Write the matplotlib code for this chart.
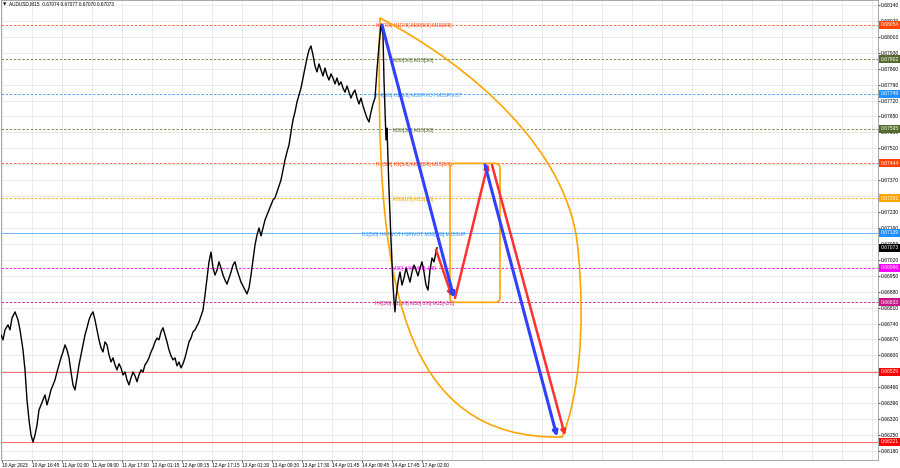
import matplotlib
matplotlib.use('Agg')
import matplotlib.pyplot as plt
from matplotlib.path import Path
from matplotlib.patches import PathPatch, FancyBboxPatch
import matplotlib.transforms as mtransforms

plt.rcParams['font.family'] = ['Liberation Sans', 'DejaVu Sans']

# ---------------- data ----------------
bar_pos = [1, 3, 5, 8, 10, 12, 15, 18, 20, 23, 25, 27, 29, 31, 33, 35, 37, 39, 41, 43,
           45, 47, 49, 51, 53, 55, 57, 59, 61, 63, 65, 67, 69, 71, 73, 75, 77, 79, 81, 83,
           85, 87, 89, 91, 93, 95, 97, 99, 101, 103, 105, 107, 109, 111, 113, 115, 117, 119, 121, 123,
           125, 127, 129, 131, 133, 135, 137, 139, 141, 143, 145, 147, 149, 151, 153, 155, 157, 159, 161, 163,
           165, 167, 169, 171, 173, 175, 177, 179, 181, 183, 185, 187, 189, 191, 193, 195, 197, 199, 201, 203,
           205, 207, 209, 211, 213, 215, 217, 219, 221, 223, 225, 227, 229, 231, 233, 235, 237, 239, 241, 243,
           245, 247, 249, 251, 253, 255, 257, 259, 261, 263, 265, 267, 269, 271, 273, 275, 277, 279, 281, 283,
           285, 287, 289, 291, 293, 295, 297, 299, 301, 303, 305, 307, 309, 311, 313, 315, 317, 319, 321, 323,
           325, 327, 329, 331, 333, 335, 337, 339, 341, 343, 345, 347, 349, 351, 353, 355, 357, 359, 361, 363,
           365, 367, 369, 371, 373, 375, 377, 379, 381, 383, 384, 385, 386, 387, 388, 389, 390, 391, 392, 393,
           394, 395, 396, 398, 400, 402, 404, 406, 408, 410, 412, 414, 416, 418, 420, 422, 424, 426, 428, 430,
           432, 434, 436, 437]
close = [0.66690, 0.66668, 0.66712, 0.66734, 0.66712, 0.66764, 0.66791, 0.66756, 0.66712, 0.66624,
         0.66536, 0.66404, 0.66316, 0.66250, 0.66219, 0.66250, 0.66294, 0.66360, 0.66382, 0.66404,
         0.66426, 0.66382, 0.66413, 0.66448, 0.66470, 0.66492, 0.66527, 0.66558, 0.66589, 0.66615,
         0.66646, 0.66624, 0.66589, 0.66527, 0.66470, 0.66448, 0.66501, 0.66558, 0.66602, 0.66646,
         0.66690, 0.66721, 0.66756, 0.66778, 0.66791, 0.66756, 0.66712, 0.66668, 0.66633, 0.66615,
         0.66659, 0.66646, 0.66602, 0.66571, 0.66589, 0.66558, 0.66536, 0.66563, 0.66545, 0.66514,
         0.66527, 0.66492, 0.66470, 0.66501, 0.66527, 0.66510, 0.66484, 0.66514, 0.66536, 0.66527,
         0.66558, 0.66571, 0.66589, 0.66615, 0.66633, 0.66659, 0.66676, 0.66668, 0.66703, 0.66721,
         0.66690, 0.66659, 0.66624, 0.66598, 0.66580, 0.66589, 0.66554, 0.66571, 0.66545, 0.66563,
         0.66589, 0.66624, 0.66659, 0.66676, 0.66703, 0.66712, 0.66729, 0.66747, 0.66773, 0.66799,
         0.66865, 0.66940, 0.67011, 0.67054, 0.66984, 0.66953, 0.66975, 0.67011, 0.66984, 0.66953,
         0.66931, 0.66913, 0.66940, 0.66966, 0.66997, 0.67011, 0.66975, 0.66949, 0.66922, 0.66905,
         0.66887, 0.66870, 0.66896, 0.66953, 0.67019, 0.67085, 0.67129, 0.67160, 0.67125, 0.67160,
         0.67195, 0.67217, 0.67239, 0.67261, 0.67283, 0.67292, 0.67318, 0.67345, 0.67371, 0.67415,
         0.67459, 0.67494, 0.67525, 0.67582, 0.67635, 0.67670, 0.67714, 0.67744, 0.67775, 0.67819,
         0.67863, 0.67907, 0.67942, 0.67960, 0.67920, 0.67872, 0.67846, 0.67881, 0.67854, 0.67828,
         0.67863, 0.67832, 0.67810, 0.67837, 0.67819, 0.67793, 0.67819, 0.67788, 0.67802, 0.67775,
         0.67757, 0.67784, 0.67757, 0.67731, 0.67753, 0.67766, 0.67731, 0.67705, 0.67731, 0.67696,
         0.67670, 0.67643, 0.67626, 0.67670, 0.67705, 0.67731, 0.67854, 0.67964, 0.68052, 0.68008,
         0.67810, 0.67679, 0.67547, 0.67599, 0.67459, 0.67327, 0.67217, 0.67107, 0.67011, 0.66909,
         0.66843, 0.66791, 0.66852, 0.66922, 0.66966, 0.66909, 0.66940, 0.66984, 0.66953, 0.66922,
         0.66966, 0.66997, 0.66975, 0.66949, 0.66984, 0.67011, 0.66966, 0.66909, 0.66887, 0.66975,
         0.67028, 0.67011, 0.67054, 0.67073]

time_labels = ['10 Apr 2023', '10 Apr 16:45', '11 Apr 01:00', '11 Apr 09:00', '11 Apr 17:00',
               '12 Apr 01:15', '12 Apr 09:15', '12 Apr 17:15', '13 Apr 01:30', '13 Apr 09:30',
               '13 Apr 17:30', '14 Apr 01:45', '14 Apr 09:45', '14 Apr 17:45', '17 Apr 02:00']
time_label_pos = [2, 32, 62, 92, 122, 152, 182, 212, 242, 272, 302, 332, 362, 392, 422]
future_grid_pos = [452, 482, 512, 542, 572, 602, 632, 662, 692, 722, 752, 782, 812, 842, 872]

price_ticks = [0.66180, 0.66250, 0.66320, 0.66390, 0.66460, 0.66530, 0.66600, 0.66670, 0.66740,
               0.66810, 0.66880, 0.66950, 0.67020, 0.67090, 0.67160, 0.67230, 0.67300, 0.67370,
               0.67440, 0.67510, 0.67580, 0.67650, 0.67720, 0.67790, 0.67860, 0.67930, 0.68000,
               0.68070, 0.68140]

level_prices = [0.68054, 0.67902, 0.67749, 0.67595, 0.67444, 0.67291, 0.67139, 0.66986, 0.66833,
                0.66529, 0.66221]
level_colors = ['#FF5A28', '#6B7B35', '#3C9BFF', '#6B7B35', '#FF5A28', '#FFA500', '#6CB8FF',
                '#FF00FF', '#C71585', '#FF6A6A', '#FF6A6A']
level_text_colors = ['#FF4500', '#556B2F', '#1E90FF', '#556B2F', '#FF4500', '#FFA500', '#1E90FF',
                     '#FF00FF', '#C71585', '#FF0000', '#FF0000']
level_dashed = [True, True, True, True, True, True, False, True, True, False, False]
level_labels = ['H4[7/8] H1[7/8] M30[8/8] M15[8/8]', 'M30[5/8] M15[5/8]',
                'H4[6/8] H1[6/8] M30PIVOT M15PIVOT', 'M30[3/8] M15[3/8]',
                'H4[5/8] H1[5/8] M30[2/8] M15[2/8]', 'M30[1/8] M15[1/8]',
                'D1[5/8] H4PIVOT H1PIVOT M30[0/8] M15SUP', 'M30[-1/8] M15[-1/8]',
                'H4[3/8] H1[3/8] M30[-2/8] M15[-2/8]', '', '']
level_label_x = [376, 393, 376, 393, 376, 393, 362, 392, 375, 0, 0]

current_price = 0.67073
ohlc_title = 'AUDUSD,M15  0.67074 0.67077 0.67070 0.67073'

# ellipse (two cubic Bezier branches), (bar, price)
ell_left = [(380, 0.68083), (374, 0.66931), (400, 0.66228), (562, 0.66241)]
ell_right = [(380, 0.68083), (470, 0.67876), (570, 0.67503), (578, 0.67063),
             (586, 0.66712), (578, 0.66404), (562, 0.66241)]
# rectangle: bar range and price range
rect_bars = (450, 500)
rect_prices = (0.66833, 0.67444)
# arrows: (x0, p0, x1, p1)
blue_arrows = [(382, 0.68052, 454, 0.66852), (485, 0.67437, 557, 0.66243)]
red_arrows = [(436, 0.67064, 452, 0.66858), (455, 0.66852, 488, 0.67443),
              (492, 0.67437, 565, 0.66248)]

# ---------------- figure ----------------
W, H = 900, 468
fig = plt.figure(figsize=(W / 100, H / 100), dpi=100)
ax = fig.add_axes([1 / W, 8 / H, 877 / W, 460 / H])
ax.set_xlim(1, 878)
ax.set_ylim(0.66140, 0.68162)
ax.set_facecolor('white')

# grid
for gx in time_label_pos + future_grid_pos:
    ax.axvline(gx, color='#E6E6E6', lw=0.6, zorder=0)
for py in price_ticks:
    ax.axhline(py, color='#E6E6E6', lw=0.6, zorder=0)

# level lines and labels
for p, c, tc, d, lab, lx in zip(level_prices, level_colors, level_text_colors,
                                level_dashed, level_labels, level_label_x):
    if d:
        ax.axhline(p, color=c, lw=0.6, dashes=(3, 2), zorder=1)
    else:
        ax.axhline(p, color=c, lw=0.7, zorder=1)
    if lab:
        ax.text(lx, p - 0.00006, lab, color=tc, fontsize=3.6, va='center', ha='left', zorder=2)

# ellipse
verts = ell_left + ell_right[::-1][1:]
codes = [Path.MOVETO, Path.CURVE4, Path.CURVE4, Path.CURVE4,
         Path.CURVE4, Path.CURVE4, Path.CURVE4, Path.CURVE4, Path.CURVE4, Path.CURVE4]
ax.add_patch(PathPatch(Path(verts, codes), fill=False, ec='#FFA500', lw=1.2, zorder=3))

# rectangle
k = 0.00004395
ax.add_patch(FancyBboxPatch((rect_bars[0], rect_prices[0]), rect_bars[1] - rect_bars[0],
                            rect_prices[1] - rect_prices[0],
                            boxstyle='round,pad=0,rounding_size=5', mutation_aspect=k,
                            fill=False, ec='#FFA500', lw=1.2, zorder=3))

# price
ax.plot(bar_pos, close, color='black', lw=1.0, zorder=4)

# arrows
for x0, p0, x1, p1 in red_arrows:
    ax.annotate('', xy=(x1, p1), xytext=(x0, p0),
                arrowprops=dict(arrowstyle='-|>', color='#FF3030', lw=1.8,
                                mutation_scale=7, shrinkA=0, shrinkB=0), zorder=5)
for x0, p0, x1, p1 in blue_arrows:
    ax.annotate('', xy=(x1, p1), xytext=(x0, p0),
                arrowprops=dict(arrowstyle='-|>', color='#3040FF', lw=2.2,
                                mutation_scale=7, shrinkA=0, shrinkB=0), zorder=5)

# axes styling
for s in ax.spines.values():
    s.set_color('#9A9A9A')
    s.set_linewidth(0.6)
ax.yaxis.tick_right()
ax.set_yticks(price_ticks)
ax.set_yticklabels(['%.5f' % v for v in price_ticks])
ax.tick_params(axis='y', labelsize=3.6, length=1.5, width=0.5, pad=0.8, colors='black')
ax.set_xticks(time_label_pos)
ax.set_xticklabels(time_labels)
for t in ax.get_xticklabels():
    t.set_ha('left')
ax.tick_params(axis='x', labelsize=3.4, length=1.5, width=0.5, pad=0.6, colors='black')

# right price tags
tag_tr = mtransforms.blended_transform_factory(ax.transAxes, ax.transData)
tag_prices = level_prices + [current_price]
tag_colors = level_text_colors + ['black']
for p, c in zip(tag_prices, tag_colors):
    ax.text(1.0 + 2.5 / 877, p, '%.5f' % p, transform=tag_tr, fontsize=3.6, color='white',
            va='center', ha='left', clip_on=False, zorder=6,
            bbox=dict(boxstyle='square,pad=0.3', fc=c, ec=c, lw=0))

# title
fig.text(3 / W, 1 - 4 / H, '\u25BC', fontsize=3.2, family='DejaVu Sans', va='center', ha='left')
fig.text(9 / W, 1 - 4 / H, ohlc_title, fontsize=3.4, va='center', ha='left')

fig.savefig('out.png', dpi=100, facecolor='white')
